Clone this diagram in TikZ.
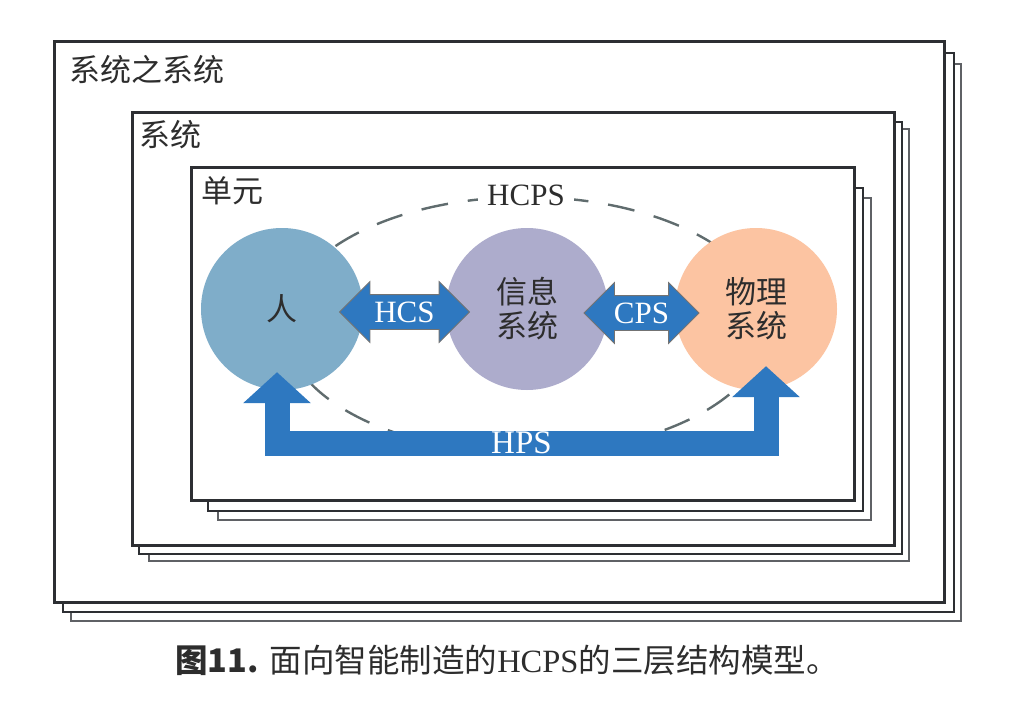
\documentclass[tikz,border=0pt]{standalone}
\usepackage{fontspec}
\setmainfont{Liberation Serif}
\newfontfamily\cjk{Noto Sans CJK SC}
\usetikzlibrary{positioning,calc,shapes.geometric,shapes.arrows,arrows.meta}
\definecolor{renblue}{RGB}{127,173,201}
\definecolor{infogray}{RGB}{173,172,204}
\definecolor{physpeach}{RGB}{252,196,162}
\definecolor{hpsblue}{RGB}{46,120,192}
\definecolor{framedark}{RGB}{45,47,51}
\definecolor{framegray}{RGB}{95,97,101}
\definecolor{ringgray}{RGB}{96,108,110}
\definecolor{inktext}{RGB}{45,45,45}

\begin{document}
\begin{tikzpicture}[x=1pt,y=-1pt,
  frontbox/.style={draw=framedark,line width=3pt,fill=white},
  midbox/.style={draw=framedark,line width=2.6pt,fill=white},
  backbox/.style={draw=framegray,line width=2pt,fill=white},
  boxlabel/.style={anchor=west,inner sep=0pt,text=inktext,font=\cjk\fontsize{31}{31}\selectfont},
  subsys/.style={shape=circle,minimum size=162pt,inner sep=0pt,text=inktext,align=center,font=\cjk\fontsize{31}{34}\selectfont},
  fatarrow/.style={double arrow,double arrow head extend=13pt,draw=black!55,line width=0.8pt,fill=hpsblue,text=white,text height=20.5pt,text depth=0pt,inner xsep=0pt,inner ysep=6.75pt,font=\fontsize{31}{31}\selectfont},
  hpsarrow/.style={draw=hpsblue,line width=25pt,line join=miter,>={Triangle[width=66pt,length=31pt]},<->},
  hpstext/.style={text=white,inner sep=0pt,font=\fontsize{33}{33}\selectfont}]
  \useasboundingbox (0,0) rectangle (1022,714);

  % 系统之系统
  \draw[backbox] (71,64) rectangle (961,621);
  \draw[midbox] (63,53) rectangle (954,612);
  \draw[frontbox] (54,42) rectangle (944,602);
  \node[boxlabel] (sos) at (69,70) {系统之系统};

  % 系统
  \draw[backbox] (149,129) rectangle (909,561);
  \draw[midbox] (139,122) rectangle (902,554);
  \draw[frontbox] (132,113) rectangle (894,545);
  \node[boxlabel] (sys) at (139,135) {系统};

  % 单元
  \draw[backbox] (218,198) rectangle (871,520);
  \draw[midbox] (208,188) rectangle (863,511);
  \draw[frontbox] (191,168) rectangle (854,500);
  \node[boxlabel] (cell) at (201,191) {单元};

  \node[shape=ellipse,draw=ringgray,line width=2.4pt,dash pattern=on 27pt off 20pt,minimum width=484pt,minimum height=256pt,inner sep=0pt] (hcps) at (526,325) {};
  \node[fill=white,inner xsep=9pt,inner ysep=2pt,text=inktext,font=\fontsize{31}{31}\selectfont] (hcpslabel) at (hcps.north) {HCPS};

  \node[subsys,fill=renblue] (ren) at (282,309) {人};
  \node[subsys,fill=infogray] (info) at (527,309) {信息\\系统};
  \node[subsys,fill=physpeach] (phys) at (756,309) {物理\\系统};

  \coordinate (hpsL) at ($(ren.south)+(-5,-18)$);
  \coordinate (hpsR) at ($(phys.south)+(10,-24)$);
  \coordinate (hpsbar) at (0,443);
  \draw[hpsarrow] (hpsL) -- (hpsL |- hpsbar) -- node[hpstext] {HPS} (hpsR |- hpsbar) -- (hpsR);

  \node[fatarrow,minimum height=130pt,yshift=-3pt] (hcs) at ($(ren.east)!0.5!(info.west)$) {HCS};
  \node[fatarrow,minimum height=115pt,yshift=-4pt] (cps) at ($(info.east)!0.5!(phys.west)$) {CPS};

  \node[text=inktext,inner sep=0pt,font=\fontsize{32.5}{32.5}\selectfont] (caption) at (507,660) {{\cjk\bfseries 图11.} {\cjk 面向智能制造的}HCPS{\cjk 的三层结构模型。}};
\end{tikzpicture}
\end{document}
